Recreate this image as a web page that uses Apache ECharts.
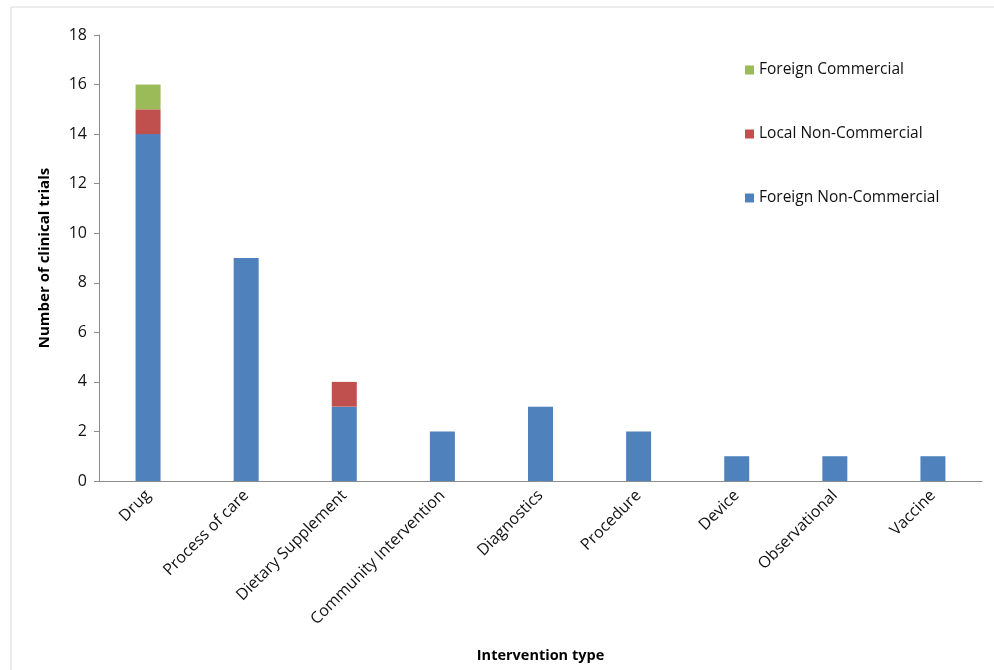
<!DOCTYPE html>
<html>
<head>
<meta charset="utf-8">
<script src="https://cdn.jsdelivr.net/npm/echarts@6/dist/echarts.min.js"></script>
<style>
html,body{margin:0;padding:0;background:#fff;}
#chart{width:994px;height:670px;}
</style>
</head>
<body>
<div id="chart"></div>
<script>
// Intervention categories and trial counts by sponsor type
const categories = ['Drug', 'Process of care', 'Dietary Supplement', 'Community Intervention',
  'Diagnostics', 'Procedure', 'Device', 'Observational', 'Vaccine'];
const foreignNonCommercial = [14, 9, 3, 2, 3, 2, 1, 1, 1];
const localNonCommercial = [1, 0, 1, 0, 0, 0, 0, 0, 0];
const foreignCommercial = [1, 0, 0, 0, 0, 0, 0, 0, 0];
const yTicks = { min: 0, max: 18, interval: 2 };

const FONT = 'Open Sans';
const chart = echarts.init(document.getElementById('chart'));

const barSeries = (name, data, color) => ({
  name, type: 'bar', stack: 'total', data,
  barWidth: 25,
  itemStyle: { color },
  emphasis: { disabled: true }
});

chart.setOption({
  animation: false,
  textStyle: { fontFamily: FONT },
  graphic: [{
    type: 'rect',
    shape: { x: 11, y: 7, width: 1000, height: 700 },
    style: { fill: 'none', stroke: '#d9d9d9', lineWidth: 1 },
    silent: true
  }],
  grid: { left: 99, right: 12, top: 35, bottom: 189, containLabel: false },
  legend: {
    orient: 'vertical',
    left: 740,
    top: 57,
    itemWidth: 9,
    itemHeight: 9,
    itemGap: 48,
    icon: 'rect',
    textStyle: { fontFamily: FONT, fontSize: 15.5, color: '#111' },
    data: ['Foreign Commercial', 'Local Non-Commercial', 'Foreign Non-Commercial']
  },
  xAxis: {
    type: 'category',
    data: categories,
    name: 'Intervention type',
    nameLocation: 'middle',
    nameGap: 167,
    nameTextStyle: { fontFamily: FONT, fontSize: 14.5, fontWeight: 'bold', color: '#000' },
    axisLine: { lineStyle: { color: '#8c8c8c', width: 1 } },
    axisTick: { show: false },
    axisLabel: { rotate: 45, fontFamily: FONT, fontSize: 16, color: '#111', margin: 12, interval: 0 }
  },
  yAxis: {
    type: 'value',
    min: yTicks.min, max: yTicks.max, interval: yTicks.interval,
    name: 'Number of clinical trials',
    nameLocation: 'middle',
    nameGap: 47,
    nameTextStyle: { fontFamily: FONT, fontSize: 15, fontWeight: 'bold', color: '#000' },
    axisLine: { show: true, lineStyle: { color: '#8c8c8c', width: 1 } },
    axisTick: { show: true, length: 5, lineStyle: { color: '#8c8c8c' } },
    splitLine: { show: false },
    axisLabel: { fontFamily: FONT, fontSize: 16, color: '#111', margin: 12 }
  },
  series: [
    barSeries('Foreign Non-Commercial', foreignNonCommercial, '#4F81BD'),
    barSeries('Local Non-Commercial', localNonCommercial, '#C0504D'),
    barSeries('Foreign Commercial', foreignCommercial, '#9BBB59')
  ]
});
</script>
</body>
</html>
